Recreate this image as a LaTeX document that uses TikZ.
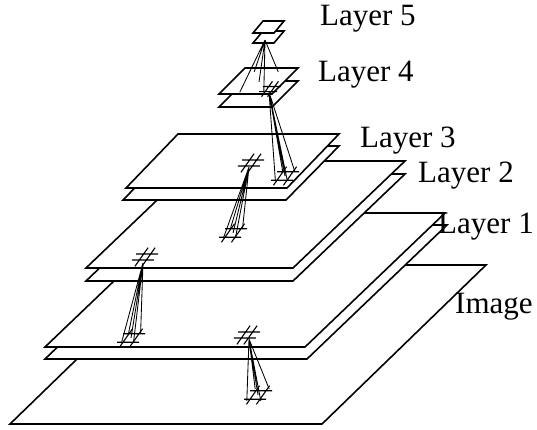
\documentclass[tikz,border=0pt]{standalone}
\usepackage{fontspec}
\setmainfont{Liberation Serif}
\newcommand\plate[5]{\filldraw[sheet] (#1,#2) -- ++(#3,0) -- ++(#4,-#5) -- ++(-#3,0) -- cycle;}
\newcommand\hashmark[4]{%
  \begin{scope}[shift={(#1,#2)},x={(1pt,0pt)},y={(0.6pt,0.85pt)}]
    \draw[hashline] (-#4,-#3) -- (#4,-#3) (-#4,#3) -- (#4,#3)
                    (-#3,-#4) -- (-#3,#4) (#3,-#4) -- (#3,#4);
  \end{scope}}
\newcommand\conerays[5]{%
  \coordinate (apex) at (#1,#2);
  \begin{scope}[shift={(#3,#4)},x={(1pt,0pt)},y={(0.6pt,0.85pt)}]
    \coordinate (q1) at (-#5,-#5);
    \coordinate (q2) at (#5,-#5);
    \coordinate (q3) at (#5,#5);
    \coordinate (q4) at (-#5,#5);
    \coordinate (qc) at (0,0);
  \end{scope}
  \draw[ray] (apex) -- (q1) (apex) -- (q2) (apex) -- (q3) (apex) -- (q4) (apex) -- (qc);}
\begin{document}
\begin{tikzpicture}[x=1pt,y=-1pt,
  sheet/.style={draw=black,fill=white,line width=1.6pt,line join=miter},
  ray/.style={draw=black,line width=0.85pt},
  hashline/.style={draw=black,line width=1.1pt},
  lbl/.style={font=\fontsize{31}{31}\selectfont,anchor=base west,inner sep=0pt}]
\useasboundingbox (0,0) rectangle (537,429);
% Image
\plate{10}{424}{312}{164}{159}
% Layer 1 pair
\plate{45}{359}{262}{140}{134}
\plate{45}{347}{260}{140}{134}
% Layer 2 pair
\plate{86}{281}{207}{112}{107}
\plate{86}{268}{207}{112}{107}
% Layer 3 pair
\plate{123}{200}{163}{53}{54}
\plate{126}{188}{161}{52}{54}
% Layer 4 pair
\plate{219}{107}{53}{26}{26}
\plate{219}{94}{53}{26}{26}
% Layer 5 pair
\plate{253}{43}{21}{10}{12}
\plate{253}{33}{21}{10}{12}
% cone Layer 5 -> Layer 4
\conerays{265}{40}{259}{82}{12}
% cone Layer 4 -> Layer 3
\conerays{269}{92}{285}{176}{6}
\hashmark{270}{89}{3}{9}
\hashmark{285}{176}{5}{11}
% cone Layer 3 -> Layer 2
\conerays{249}{167}{233}{233}{6}
\hashmark{251}{163}{3.5}{11}
\hashmark{233}{233}{5}{11}
% cone Layer 2 -> Layer 1
\conerays{143}{263}{131}{338}{6}
\hashmark{145}{257}{3.5}{11}
\hashmark{131}{338}{5}{11}
% cone Layer 1 -> Image
\conerays{249}{339}{258}{395}{7}
\hashmark{247}{335}{3.5}{11}
\hashmark{258}{395}{5}{11}
% labels
\node[lbl] (l5) at (320,25) {Layer 5};
\node[lbl] (l4) at (318,81) {Layer 4};
\node[lbl] (l3) at (360,147) {Layer 3};
\node[lbl] (l2) at (418,182) {Layer 2};
\node[lbl] (l1) at (438,233) {Layer 1};
\node[lbl] (im) at (455,313) {Image};
\end{tikzpicture}
\end{document}
